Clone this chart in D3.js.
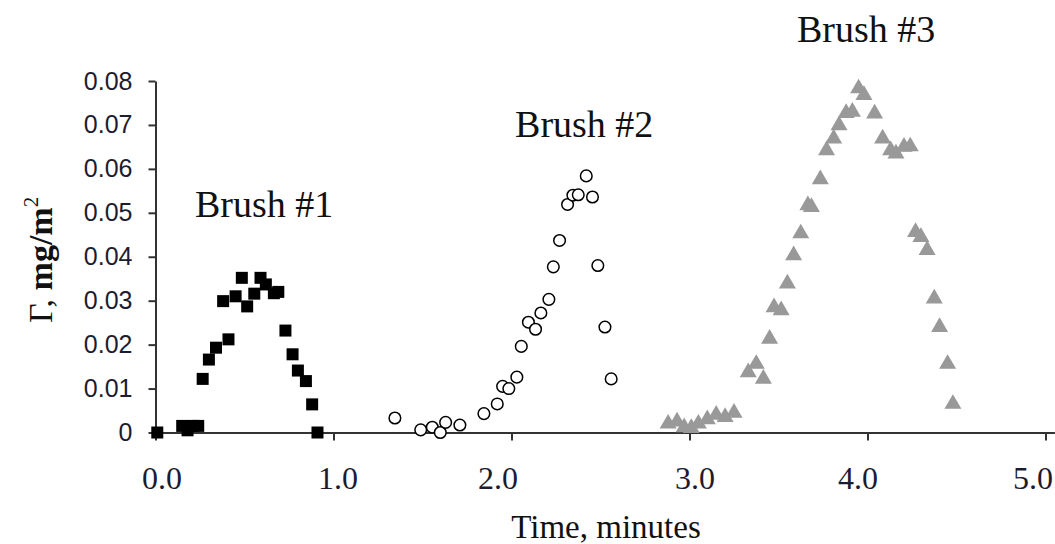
<!DOCTYPE html>
<html>
<head>
<meta charset="utf-8">
<script src="https://cdn.jsdelivr.net/npm/d3@7"></script>
<style>
    body { margin: 0; background: #fff; }
    svg { display: block; }
    .serif { font-family: "Liberation Serif", "Times New Roman", serif; fill: #111; }
    .y-axis text { font-family: "Liberation Sans", Arial, sans-serif; font-size: 25px; fill: #1c1c30; }
    .x-axis text { font-family: "Liberation Serif", "Times New Roman", serif; font-size: 32px; fill: #1c1c30; }
    .domain, .tick line { stroke: #333; stroke-width: 2; }
</style>
</head>
<body>
<div id="plot"></div>
<script>
'use strict';

// brush #1 (filled squares)
const brush1Time = [0.01, 0.15, 0.18, 0.21, 0.24, 0.265, 0.30, 0.34, 0.38, 0.41, 0.45, 0.485,
    0.515, 0.555, 0.59, 0.62, 0.665, 0.69, 0.73, 0.77, 0.80, 0.845, 0.88, 0.91];
const brush1Gamma = [0, 0.0015, 0.0005, 0.0015, 0.0015, 0.0122, 0.0166, 0.0193, 0.0299, 0.0212,
    0.031, 0.0352, 0.0287, 0.0316, 0.0352, 0.0337, 0.0317, 0.032, 0.0232, 0.0178, 0.0141,
    0.0117, 0.0064, 0];

// brush #2 (open circles)
const brush2Time = [1.345, 1.49, 1.555, 1.6, 1.63, 1.71, 1.845, 1.92, 1.95, 1.985, 2.03, 2.055,
    2.095, 2.135, 2.165, 2.21, 2.235, 2.27, 2.315, 2.345, 2.375, 2.42, 2.455, 2.485, 2.525, 2.56];
const brush2Gamma = [0.0033, 0.0006, 0.0012, 0, 0.0023, 0.0017, 0.0043, 0.0065, 0.0105, 0.010,
    0.0126, 0.0196, 0.0251, 0.0235, 0.0272, 0.0303, 0.0377, 0.0437, 0.0519, 0.054, 0.0541,
    0.0584, 0.0536, 0.038, 0.024, 0.0122];

// brush #3 (grey triangles)
const brush3Time = [2.88, 2.93, 2.97, 3.01, 3.05, 3.1, 3.15, 3.2, 3.25, 3.33, 3.375, 3.415,
    3.45, 3.475, 3.515, 3.55, 3.585, 3.625, 3.665, 3.685, 3.735, 3.77, 3.81, 3.84, 3.88, 3.915,
    3.95, 3.98, 4.04, 4.085, 4.13, 4.16, 4.205, 4.24, 4.27, 4.3, 4.335, 4.375, 4.405, 4.45, 4.48];
const brush3Gamma = [0.002, 0.0025, 0.0012, 0.001, 0.002, 0.003, 0.004, 0.0035, 0.0045, 0.0137,
    0.0156, 0.0122, 0.0213, 0.0285, 0.0278, 0.0339, 0.0403, 0.0453, 0.0517, 0.0513, 0.0576,
    0.0642, 0.0669, 0.0699, 0.0727, 0.073, 0.0783, 0.0768, 0.0726, 0.0669, 0.0642, 0.0635,
    0.065, 0.0651, 0.0456, 0.0445, 0.0415, 0.0305, 0.024, 0.0156, 0.0065];

const xTicks = [0, 1, 2, 3, 4, 5];
const yTicks = [0, 0.01, 0.02, 0.03, 0.04, 0.05, 0.06, 0.07, 0.08];

const labelNames = ['Brush #1', 'Brush #2', 'Brush #3'];
const labelTime = [0.222, 2.02, 3.604];
const labelGamma = [0.0491, 0.0673, 0.0889];

// the original's x tick labels sit a little off their ticks
let xLabelShift = [6, 4, -14, 5, -10, -13];

let svgWidth = 1055,
    svgHeight = 544,
    svg = d3.select('#plot').append('svg')
        .attr('width', svgWidth)
        .attr('height', svgHeight);

let xScale = d3.scaleLinear().domain([0, 5.05]).range([155.5, 1054.4]),
    yScale = d3.scaleLinear().domain([0, 0.08]).range([432.5, 81]);

let zip = (ts, vs) => ts.map((t, i) => ({ t: t, v: vs[i] }));
let place = d => `translate(${xScale(d.t)}, ${yScale(d.v)})`;

// axes
let xAxis = d3.axisBottom(xScale)
    .tickValues(xTicks)
    .tickFormat(d3.format('.1f'))
    .tickSizeInner(8)
    .tickSizeOuter(0)
    .tickPadding(26);

svg.append('g')
    .attr('class', 'x-axis')
    .attr('transform', `translate(0, ${yScale(0)})`)
    .call(xAxis)
    .call(g => g.selectAll('text').attr('dx', (d, i) => xLabelShift[i]));

let yAxis = d3.axisLeft(yScale)
    .tickValues(yTicks)
    .tickFormat(d => d === 0 ? '0' : d3.format('.2f')(d))
    .tickSizeInner(7)
    .tickSizeOuter(0)
    .tickPadding(16);

svg.append('g')
    .attr('class', 'y-axis')
    .attr('transform', `translate(${xScale(0)}, 0)`)
    .call(yAxis);

svg.selectAll('.domain').attr('fill', 'none');

// markers
let marks = svg.append('g');

marks.append('g').selectAll('path')
    .data(zip(brush1Time, brush1Gamma)).enter().append('path')
    .attr('d', d3.symbol(d3.symbolSquare, 144))
    .attr('fill', '#000')
    .attr('transform', place);

marks.append('g').selectAll('circle')
    .data(zip(brush2Time, brush2Gamma)).enter().append('circle')
    .attr('r', 5.8)
    .attr('fill', '#fff')
    .attr('stroke', '#000')
    .attr('stroke-width', 1.5)
    .attr('transform', place);

marks.append('g').selectAll('path')
    .data(zip(brush3Time, brush3Gamma)).enter().append('path')
    .attr('d', d3.symbol(d3.symbolTriangle, 125))
    .attr('fill', '#999')
    .attr('transform', place);

// brush labels
svg.append('g').selectAll('text')
    .data(zip(labelTime, labelGamma)).enter().append('text')
    .attr('class', 'serif')
    .attr('font-size', 38)
    .attr('transform', place)
    .text((d, i) => labelNames[i]);

// axis titles
svg.append('text')
    .attr('class', 'serif')
    .attr('font-size', 33)
    .attr('text-anchor', 'middle')
    .attr('x', 606)
    .attr('y', 538)
    .text('Time, minutes');

let yLabel = svg.append('text')
    .attr('class', 'serif')
    .attr('font-size', 34)
    .attr('transform', 'translate(52, 323) rotate(-90)');
yLabel.append('tspan').text('\u0393, ');
yLabel.append('tspan').attr('font-weight', 'bold').text('mg/m');
yLabel.append('tspan').attr('font-size', 21).attr('dy', -14).text('2');
</script>
</body>
</html>
